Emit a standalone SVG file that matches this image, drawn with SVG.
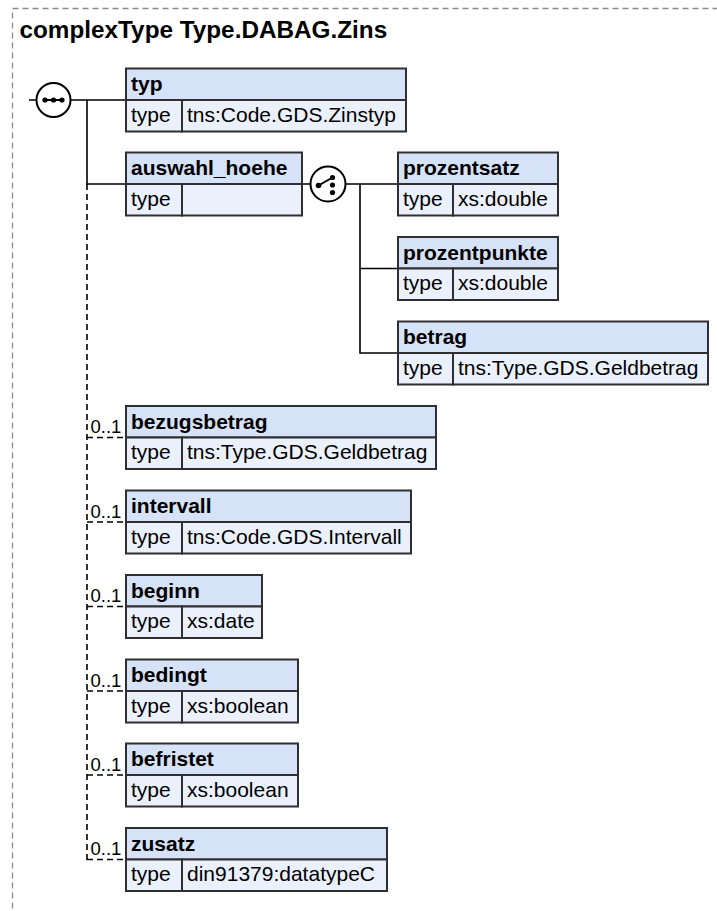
<svg xmlns="http://www.w3.org/2000/svg" width="717" height="911" viewBox="0 0 717 911">
<style>
.frame{fill:none;stroke:#8a8a8a;stroke-width:1.3;stroke-dasharray:6,4}
.title{font-family:"Liberation Sans",Arial,sans-serif;font-weight:bold;font-size:24.3px;fill:#000}
.hd{fill:#d5e2f7;stroke:#2f2f2f;stroke-width:2}
.rw{fill:#eaf1fc;stroke:#2f2f2f;stroke-width:2}
.nm{font-family:"Liberation Sans",Arial,sans-serif;font-weight:bold;font-size:21px;fill:#000}
.tx{font-family:"Liberation Sans",Arial,sans-serif;font-size:21px;fill:#000}
.occ{font-family:"Liberation Sans",Arial,sans-serif;font-size:18.5px;fill:#000}
.ln{fill:none;stroke:#000;stroke-width:1.6}
.dl{fill:none;stroke:#000;stroke-width:1.6;stroke-dasharray:6,4}
.ic{fill:#fff;stroke:#000;stroke-width:2}
</style>
<rect class="frame" x="12.5" y="8.5" width="720" height="920"/>
<text class="title" x="19.5" y="37.5">complexType Type.DABAG.Zins</text>

<g id="connectors">
<path class="ln" d="M29,100H36M70.5,100H126M87,100V184H126"/>
<path class="dl" d="M87,184V860"/>
<path class="dl" d="M87,437.5H126M87,522H126M87,606.5H126M87,691H126M87,775H126M87,859.5H126"/>
<path class="ln" d="M302,184H310.5M345.5,184H398M360,184V353H398M360,268.5H398"/>
</g>

<g id="sequence">
<circle class="ic" cx="53.5" cy="100" r="17"/>
<path d="M43,100H64" stroke="#000" stroke-width="2"/>
<circle cx="45" cy="100" r="2.6"/><circle cx="53.5" cy="100" r="2.6"/><circle cx="62" cy="100" r="2.6"/>
</g>

<g id="choice">
<circle class="ic" cx="328" cy="184" r="17.5"/>
<path d="M318.5,185.5L332.5,177.5" stroke="#000" stroke-width="2"/>
<circle cx="318.5" cy="185.5" r="2.8"/><circle cx="332.5" cy="177.5" r="2.6"/><circle cx="332.5" cy="185" r="2.6"/><circle cx="332.5" cy="192.5" r="2.6"/>
</g>

<g id="typ">
<rect class="hd" x="126" y="68.5" width="280" height="31.5"/>
<rect class="rw" x="126" y="100" width="56" height="31.5"/>
<rect class="rw" x="182" y="100" width="224" height="31.5"/>
<text class="nm" x="131" y="91">typ</text>
<text class="tx" x="131" y="121.5">type</text>
<text class="tx" x="187" y="121.5">tns:Code.GDS.Zinstyp</text>
</g>

<g id="auswahl_hoehe">
<rect class="hd" x="126" y="152.5" width="176" height="31.5"/>
<rect class="rw" x="126" y="184" width="56" height="31.5"/>
<rect class="rw" x="182" y="184" width="120" height="31.5"/>
<text class="nm" x="131" y="175">auswahl_hoehe</text>
<text class="tx" x="131" y="205.5">type</text>
</g>

<g id="prozentsatz">
<rect class="hd" x="398" y="152.5" width="160" height="31.5"/>
<rect class="rw" x="398" y="184" width="55" height="31.5"/>
<rect class="rw" x="453" y="184" width="105" height="31.5"/>
<text class="nm" x="403" y="175">prozentsatz</text>
<text class="tx" x="403" y="205.5">type</text>
<text class="tx" x="458" y="205.5">xs:double</text>
</g>

<g id="prozentpunkte">
<rect class="hd" x="398" y="237" width="160" height="31.5"/>
<rect class="rw" x="398" y="268.5" width="55" height="31.5"/>
<rect class="rw" x="453" y="268.5" width="105" height="31.5"/>
<text class="nm" x="403" y="259.5">prozentpunkte</text>
<text class="tx" x="403" y="290">type</text>
<text class="tx" x="458" y="290">xs:double</text>
</g>

<g id="betrag">
<rect class="hd" x="398" y="321.5" width="310" height="31.5"/>
<rect class="rw" x="398" y="353" width="55" height="31.5"/>
<rect class="rw" x="453" y="353" width="255" height="31.5"/>
<text class="nm" x="403" y="344">betrag</text>
<text class="tx" x="403" y="374.5">type</text>
<text class="tx" x="458" y="374.5">tns:Type.GDS.Geldbetrag</text>
</g>

<g id="bezugsbetrag">
<text class="occ" x="90.5" y="433">0..1</text>
<rect class="hd" x="126" y="406" width="310" height="31.5"/>
<rect class="rw" x="126" y="437.5" width="56" height="31.5"/>
<rect class="rw" x="182" y="437.5" width="254" height="31.5"/>
<text class="nm" x="131" y="428.5">bezugsbetrag</text>
<text class="tx" x="131" y="459">type</text>
<text class="tx" x="187" y="459">tns:Type.GDS.Geldbetrag</text>
</g>

<g id="intervall">
<text class="occ" x="90.5" y="517.5">0..1</text>
<rect class="hd" x="126" y="490.5" width="285" height="31.5"/>
<rect class="rw" x="126" y="522" width="56" height="31.5"/>
<rect class="rw" x="182" y="522" width="229" height="31.5"/>
<text class="nm" x="131" y="513">intervall</text>
<text class="tx" x="131" y="543.5">type</text>
<text class="tx" x="187" y="543.5">tns:Code.GDS.Intervall</text>
</g>

<g id="beginn">
<text class="occ" x="90.5" y="602">0..1</text>
<rect class="hd" x="126" y="575" width="136" height="31.5"/>
<rect class="rw" x="126" y="606.5" width="56" height="31.5"/>
<rect class="rw" x="182" y="606.5" width="80" height="31.5"/>
<text class="nm" x="131" y="597.5">beginn</text>
<text class="tx" x="131" y="628">type</text>
<text class="tx" x="187" y="628">xs:date</text>
</g>

<g id="bedingt">
<text class="occ" x="90.5" y="686.5">0..1</text>
<rect class="hd" x="126" y="659.5" width="172" height="31.5"/>
<rect class="rw" x="126" y="691" width="56" height="31.5"/>
<rect class="rw" x="182" y="691" width="116" height="31.5"/>
<text class="nm" x="131" y="682">bedingt</text>
<text class="tx" x="131" y="712.5">type</text>
<text class="tx" x="187" y="712.5">xs:boolean</text>
</g>

<g id="befristet">
<text class="occ" x="90.5" y="770.5">0..1</text>
<rect class="hd" x="126" y="743.5" width="172" height="31.5"/>
<rect class="rw" x="126" y="775" width="56" height="31.5"/>
<rect class="rw" x="182" y="775" width="116" height="31.5"/>
<text class="nm" x="131" y="766">befristet</text>
<text class="tx" x="131" y="796.5">type</text>
<text class="tx" x="187" y="796.5">xs:boolean</text>
</g>

<g id="zusatz">
<text class="occ" x="90.5" y="855">0..1</text>
<rect class="hd" x="126" y="828" width="261" height="31.5"/>
<rect class="rw" x="126" y="859.5" width="56" height="31.5"/>
<rect class="rw" x="182" y="859.5" width="205" height="31.5"/>
<text class="nm" x="131" y="850.5">zusatz</text>
<text class="tx" x="131" y="881">type</text>
<text class="tx" x="187" y="881">din91379:datatypeC</text>
</g>
</svg>
